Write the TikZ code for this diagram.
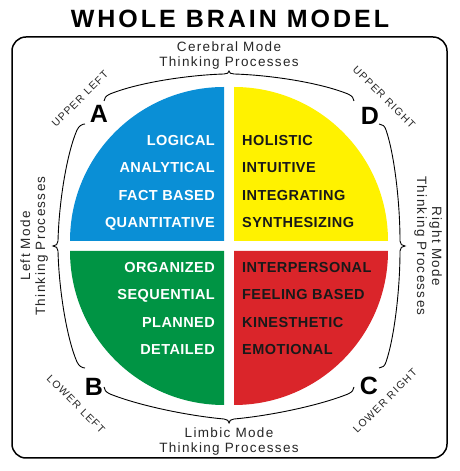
\documentclass[tikz,border=0pt]{standalone}
\usepackage{fontspec}
\setmainfont{Liberation Sans}
\newfontfamily\titlefont[LetterSpace=12]{Liberation Sans}
\newfontfamily\quadfont[LetterSpace=3]{Liberation Sans}
\newfontfamily\modefont[LetterSpace=10]{Liberation Sans}
\newfontfamily\cornerfont[LetterSpace=12]{Liberation Sans}
\definecolor{quadA}{RGB}{10,143,214}
\definecolor{quadB}{RGB}{0,148,68}
\definecolor{quadC}{RGB}{218,37,42}
\definecolor{quadD}{RGB}{255,242,0}

\begin{document}
\begin{tikzpicture}[x=1pt,y=1pt,
  wordL/.style={anchor=base east,inner sep=0pt,text=white,font=\quadfont\fontsize{14.5}{16}\selectfont\bfseries},
  wordR/.style={anchor=base west,inner sep=0pt,text=black!90,font=\quadfont\fontsize{14.5}{16}\selectfont\bfseries},
  mode/.style={anchor=base,inner sep=0pt,text=black!85,font=\modefont\fontsize{13.5}{16}\selectfont},
  corner/.style={inner sep=0pt,text=black!85,font=\cornerfont\fontsize{10.5}{12}\selectfont},
  letter/.style={inner sep=0pt,font=\fontsize{25}{28}\selectfont\bfseries},
  brace/.style={draw=black,line width=0.9pt}]
\useasboundingbox (0,0) rectangle (459,471);
\node[anchor=base,inner sep=0pt,font=\titlefont\fontsize{25}{28}\selectfont\bfseries] (title) at (230,443) {WHOLE BRAIN MODEL};
\draw[line width=1.5pt,rounded corners=14pt] (12,13) rectangle (447,434);
% quadrants
\fill[quadA] (224,230) -- +(180:154) arc[start angle=180,end angle=90,radius=154] -- cycle;
\fill[quadD] (234,230) -- +(0:154) arc[start angle=0,end angle=90,radius=154] -- cycle;
\fill[quadB] (224,220) -- +(180:154) arc[start angle=180,end angle=270,radius=154] -- cycle;
\fill[quadC] (234,220) -- +(0:154) arc[start angle=0,end angle=-90,radius=154] -- cycle;
\foreach \t [count=\i] in %
{LOGICAL,ANALYTICAL,{FACT BASED},QUANTITATIVE} {
   \node[wordL] (a\i) at (215,352.8-27.3*\i) {\t};
}
\foreach \t [count=\i] in %
{ORGANIZED,SEQUENTIAL,PLANNED,DETAILED} {
   \node[wordL] (b\i) at (215,225.8-27.3*\i) {\t};
}
\foreach \t [count=\i] in %
{INTERPERSONAL,{FEELING BASED},KINESTHETIC,EMOTIONAL} {
   \node[wordR] (c\i) at (242,225.8-27.3*\i) {\t};
}
\foreach \t [count=\i] in %
{HOLISTIC,INTUITIVE,INTEGRATING,SYNTHESIZING} {
   \node[wordR] (d\i) at (242,352.8-27.3*\i) {\t};
}
% braces
\draw[brace] (104,370) .. controls (104,373) and (106,375) .. (110,377)
   .. controls (140,389) and (190,396) .. (224,397) .. controls (227,397) and (229,398) .. (229,400)
   .. controls (229,398) and (231,397) .. (234,397) .. controls (268,396) and (318,389) .. (348,377)
   .. controls (352,375) and (354,373) .. (354,370);
\draw[brace] (104,84) .. controls (104,81) and (106,79) .. (110,77)
   .. controls (140,65) and (190,55) .. (224,52) .. controls (227,52) and (229,50) .. (229,48)
   .. controls (229,50) and (231,52) .. (234,52) .. controls (268,55) and (318,65) .. (348,77)
   .. controls (352,79) and (354,81) .. (354,84);
\draw[brace] (85,347) .. controls (82,347) and (79,345) .. (77,341)
   .. controls (67,318) and (59,270) .. (58,230) .. controls (58,227) and (56,225) .. (53,225)
   .. controls (56,225) and (58,223) .. (58,220) .. controls (59,180) and (67,132) .. (77,109)
   .. controls (79,105) and (82,103) .. (85,103);
\draw[brace] (379,347) .. controls (382,347) and (385,345) .. (386,341)
   .. controls (394,318) and (400,270) .. (400,230) .. controls (400,227) and (402,225) .. (405,225)
   .. controls (402,225) and (400,223) .. (400,220) .. controls (400,180) and (394,132) .. (386,109)
   .. controls (385,105) and (382,103) .. (379,103);
% mode labels
\node[mode] (cerebral) at (229,419) {Cerebral Mode};
\node[mode] (cerebralT) at (229,404) {Thinking Processes};
\node[mode] (limbic) at (229,33) {Limbic Mode};
\node[mode] (limbicT) at (229,18) {Thinking Processes};
\node[mode,rotate=90] (left) at (30,225) {Left Mode};
\node[mode,rotate=90] (leftT) at (45,225) {Thinking Processes};
\node[mode,rotate=-90] (right) at (432,225) {Right Mode};
\node[mode,rotate=-90] (rightT) at (417,225) {Thinking Processes};
% corners
\node[corner,rotate=45] (ul) at (80,372) {UPPER LEFT};
\node[corner,rotate=-45] (ur) at (384,374) {UPPER RIGHT};
\node[corner,rotate=-45] (ll) at (76,67) {LOWER LEFT};
\node[corner,rotate=45] (lr) at (385,70) {LOWER RIGHT};
\node[letter] (A) at (99,357) {A};
\node[letter] (D) at (370,355) {D};
\node[letter] (B) at (94,84.5) {B};
\node[letter] (C) at (369,85) {C};
\end{tikzpicture}
\end{document}
